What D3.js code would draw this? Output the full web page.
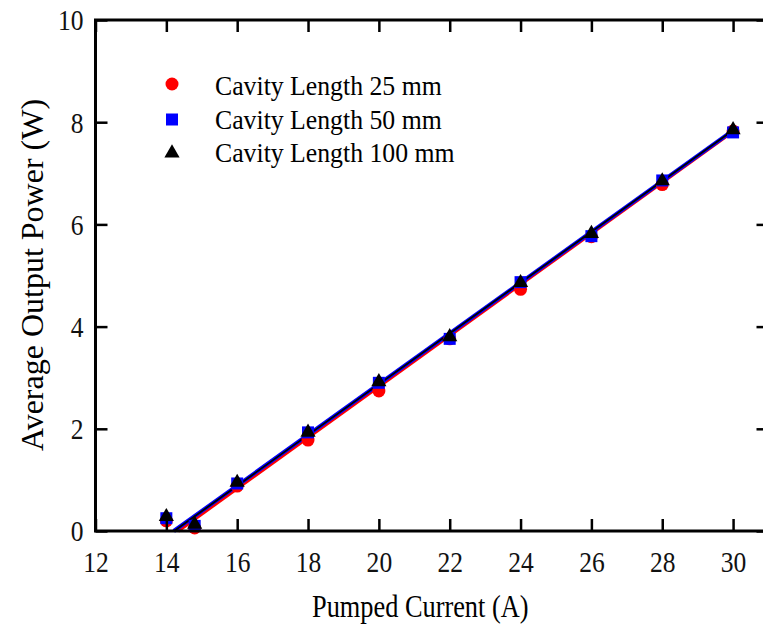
<!DOCTYPE html>
<html>
<head>
<meta charset="utf-8">
<script src="https://cdn.jsdelivr.net/npm/d3@7"></script>
<style>
  body { margin: 0; background: #fff; }
</style>
</head>
<body>
<div id="chart"></div>
<script>
// pumped current (A)
const current = [14, 14.8, 16, 18, 20, 22, 24, 26, 28, 30];
// average output power (W) per cavity length
const power25 = [0.2, 0.06, 0.88, 1.78, 2.74, 3.76, 4.73, 5.76, 6.78, 7.83];
const power50 = [0.25, 0.1, 0.93, 1.93, 2.9, 3.76, 4.87, 5.77, 6.86, 7.8];
const power100 = [0.28, 0.13, 0.95, 1.93, 2.92, 3.8, 4.86, 5.82, 6.85, 7.85];
// linear fits: slope and threshold current (x-intercept)
const fitSlope = [0.499, 0.4965, 0.497];
const fitThreshold = [14.33, 14.21, 14.22];
const fitEnd = 30;

const seriesNames = ["Cavity Length 25 mm", "Cavity Length 50 mm", "Cavity Length 100 mm"];
const xTicks = [12, 14, 16, 18, 20, 22, 24, 26, 28, 30];
const yTicks = [0, 2, 4, 6, 8, 10];

const font = '"Liberation Serif", "Times New Roman", "DejaVu Serif", serif';
const width = 763, height = 632;
const svg = d3.select("#chart").append("svg")
    .attr("width", width)
    .attr("height", height)
    .style("font-family", font);

const x = d3.scaleLinear().domain([12, 31]).range([95.5, 768.5]);
const y = d3.scaleLinear().domain([0, 10]).range([531, 20]);

const colors = ["#ff0000", "#0000ff", "#000000"];
const series = [power25, power50, power100];

// fit lines
const line = d3.line().x(d => x(d[0])).y(d => y(d[1]));
const lineWidths = [3.5, 4, 1.8];
fitSlope.forEach((s, i) => {
    const pts = [[fitThreshold[i], 0], [fitEnd, s * (fitEnd - fitThreshold[i])]];
    svg.append("path")
        .attr("d", line(pts))
        .attr("fill", "none")
        .attr("stroke", colors[i])
        .attr("stroke-width", lineWidths[i]);
});

const sym = [
    d3.symbol().type(d3.symbolCircle).size(Math.PI * 6.5 * 6.5),
    d3.symbol().type(d3.symbolSquare).size(12 * 12),
    d3.symbol().type(d3.symbolTriangle).size(100)
];

series.forEach((vals, i) => {
    svg.append("g").selectAll("path")
        .data(vals)
        .join("path")
        .attr("d", sym[i])
        .attr("transform", (d, j) => `translate(${x(current[j])},${y(d)})`)
        .attr("fill", colors[i]);
});

// frame
svg.append("rect")
    .attr("x", x(12)).attr("y", y(10))
    .attr("width", x(31) - x(12)).attr("height", y(0) - y(10))
    .attr("fill", "none").attr("stroke", "#000").attr("stroke-width", 3);

const tick = 12;
const bottom = svg.append("g").attr("transform", `translate(0,${y(0)})`)
    .call(d3.axisBottom(x).tickValues(xTicks).tickSizeInner(-tick).tickSizeOuter(0).tickFormat(d3.format("d")));
bottom.selectAll("text")
    .attr("y", 41).attr("dy", 0)
    .attr("transform", "scale(0.88,1)");

svg.append("g").attr("transform", `translate(0,${y(10)})`)
    .call(d3.axisTop(x).tickValues(xTicks).tickSizeInner(-tick).tickSizeOuter(0).tickFormat(""));

const left = svg.append("g").attr("transform", `translate(${x(12)},0)`)
    .call(d3.axisLeft(y).tickValues(yTicks).tickSizeInner(-tick).tickSizeOuter(0).tickFormat(d3.format("d")));
left.selectAll("text")
    .attr("x", -12 / 0.88).attr("dy", "0.34em")
    .attr("transform", "scale(0.88,1)");

svg.append("g").attr("transform", `translate(${x(31)},0)`)
    .call(d3.axisRight(y).tickValues(yTicks).tickSizeInner(-tick).tickSizeOuter(0).tickFormat(""));

svg.selectAll(".domain").remove();
svg.selectAll("g").attr("font-family", null);
svg.selectAll(".tick line").attr("stroke", "#000").attr("stroke-width", 2.5);
svg.selectAll(".tick text")
    .style("font-family", font)
    .style("font-size", "29px")
    .attr("fill", "#111");

// axis titles
svg.append("text")
    .attr("transform", `translate(${(x(12) + 733) / 2 + 6},${617}) scale(0.85,1)`)
    .attr("text-anchor", "middle")
    .style("font-family", font)
    .style("font-size", "31px")
    .text("Pumped Current (A)");

svg.append("text")
    .attr("transform", `translate(${43},${275}) rotate(-90)`)
    .attr("text-anchor", "middle")
    .style("font-family", font)
    .style("font-size", "32px")
    .text("Average Output Power (W)");

// legend
const legendY = [84, 119.5, 153];
const legendBase = [95, 128.5, 162];
seriesNames.forEach((name, i) => {
    svg.append("path")
        .attr("d", sym[i])
        .attr("transform", `translate(172,${legendY[i]})`)
        .attr("fill", colors[i]);
    svg.append("text")
        .attr("transform", `translate(215,${legendBase[i]}) scale(0.92,1)`)
        .style("font-family", font)
        .style("font-size", "28px")
        .text(name);
});
</script>
</body>
</html>
